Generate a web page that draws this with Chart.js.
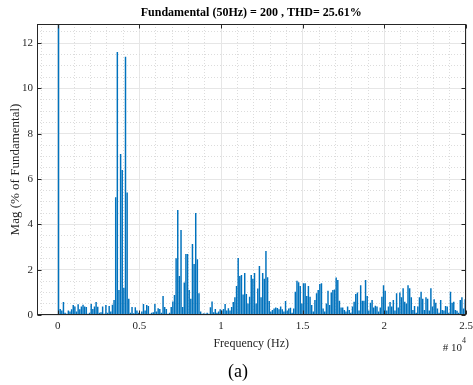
<!DOCTYPE html>
<html>
<head>
<meta charset="utf-8">
<script src="https://cdn.jsdelivr.net/npm/chart.js@4/dist/chart.umd.min.js"></script>
<style>
  html, body { margin: 0; background: #fff; }
  canvas { display: block; }
</style>
</head>
<body>
<canvas id="fft" width="473" height="385"></canvas>
<script>
/* FFT spectrum, % of fundamental */

const FONT = "'Liberation Serif', 'Times New Roman', serif";
const INK = "#262626";
const BAR = "#0072bd";

// odd harmonics of 50 Hz (50, 150, 250 ... 24950 Hz); first bar is the fundamental
const mag = [
  100,
  0.26, 0.2, 0.57, 0.1, 0.05, 0.2, 0.15, 0.25, 0.44, 0.37, 0.15, 0.47, 0.25, 0.37, 0.45, 0.37, 0.35,
  0.05, 0.1, 0.49, 0.27, 0.37, 0.57, 0.36, 0.1, 0.12, 0.37, 0.05, 0.44, 0.1, 0.4, 0.15, 0.45, 0.66,
  5.2, 11.6, 1.1, 7.1, 6.4, 1.2, 11.4, 5.4, 0.72,
  0.1, 0.35, 0.08, 0.34, 0.2, 0.1, 0.05, 0.15, 0.48, 0.2, 0.44, 0.4, 0.05, 0.1, 0.12, 0.48, 0.15, 0.3,
  0.26, 0.1, 0.84, 0.35, 0.26, 0.05, 0.1, 0.35, 0.6, 0.88,
  2.5, 4.63, 1.72, 3.75, 0.35, 1.43, 2.69, 2.69, 1.1, 0.72, 3.13, 2.25, 4.5, 2.46, 0.96,
  0.15, 0.05, 0.08, 0.06, 0.1, 0.05, 0.34, 0.6, 0.12, 0.27, 0.1, 0.15, 0.25, 0.2, 0.27, 0.48, 0.2,
  0.3, 0.2, 0.35, 0.57, 0.78, 1.28, 2.51, 1.72, 1.76,
  0.9, 1.85, 0.93, 0.51, 0.8, 1.76, 1.6, 1.85, 0.51, 1.17, 2.16, 0.78, 1.85, 1.6, 2.82, 1.67, 0.62,
  0.15, 0.22, 0.29, 0.33, 0.31, 0.25, 0.37, 0.25, 0.15, 0.62, 0.2, 0.29, 0.32, 0.1, 0.29, 1.03, 1.51,
  1.45, 1.28, 0.51, 1.4, 1.4, 0.84, 1.28, 0.81, 0.44, 0.15, 0.66, 0.96, 1.1, 1.37, 1.4, 0.29, 0.15,
  0.51, 1.07, 0.44, 0.99, 1.1,
  1.13, 1.66, 1.54, 0.63, 0.33, 0.33, 0.22, 0.15, 0.37, 0.22, 0.1, 0.37, 0.59, 0.93, 0.99, 0.2, 1.31,
  0.63, 0.63, 1.54, 0.84, 0.2, 0.54, 0.66, 0.33, 0.41, 0.37, 0.15, 0.33, 0.81, 1.31, 1.07, 0.2, 0.37,
  0.57, 0.37, 0.66, 0.2, 0.96, 0.33, 0.99, 0.78, 1.18, 0.59, 0.51, 1.31, 1.18, 0.78, 0.22, 0.4, 0.1,
  0.37, 0.78, 1.03, 0.72, 0.22, 0.78, 0.72, 0.2, 1.18, 0.37, 0.69, 0.54, 0.29, 0.1, 0.66, 0.22, 0.2,
  0.4, 0.37, 0.1, 1.03, 0.54, 0.59, 0.22, 0.19, 0.1, 0.66, 0.78, 0.29, 0.69,
];
const freqs = mag.map((_, k) => 50 + 100 * k);

const xTicks = [0, 5000, 10000, 15000, 20000, 25000];
const xLabels = ["0", "0.5", "1", "1.5", "2", "2.5"];
const yTicks = [0, 2, 4, 6, 8, 10, 12];

const X_MIN = -1300, X_MAX = 25000, Y_MAX = 12.84;

// dotted minor grid positions
const xMinor = [];
for (let v = -1000; v <= X_MAX; v += 1000) if (v % 5000) xMinor.push(v);
const yMinor = [];
for (let v = 0.5; v < Y_MAX; v += 0.5) if (v % 2) yMinor.push(v);

const setTicks = (vals) => (s) => { s.ticks = vals.map((value) => ({ value })); };

// MATLAB-ish box with inward ticks, exponent and caption
const frame = {
  id: "frame",
  afterDatasetsDraw(chart) {
    const { ctx, chartArea: a, scales } = chart;
    const L = Math.round(a.left) + 0.5, R = Math.round(a.right) - 0.5;
    const T = Math.round(a.top) + 0.5, B = Math.round(a.bottom) - 0.5;
    ctx.save();
    ctx.strokeStyle = INK;
    ctx.lineWidth = 1;
    ctx.strokeRect(L, T, R - L, B - T);
    ctx.beginPath();
    xTicks.forEach((v) => {
      const x = Math.round(scales.x.getPixelForValue(v)) + 0.5;
      ctx.moveTo(x, B); ctx.lineTo(x, B - 4);
      ctx.moveTo(x, T); ctx.lineTo(x, T + 4);
    });
    yTicks.forEach((v) => {
      const y = Math.round(scales.y.getPixelForValue(v)) + 0.5;
      ctx.moveTo(L, y); ctx.lineTo(L + 4, y);
      ctx.moveTo(R, y); ctx.lineTo(R - 4, y);
    });
    ctx.stroke();
    ctx.restore();
  },
  afterDraw(chart) {
    const { ctx, chartArea: a } = chart;
    ctx.save();
    ctx.fillStyle = INK;
    ctx.textBaseline = "middle";
    ctx.font = `11px ${FONT}`;
    ctx.textAlign = "right";
    ctx.fillText("# 10", a.right - 4, 348);
    ctx.font = `8px ${FONT}`;
    ctx.textAlign = "left";
    ctx.fillText("4", a.right - 4, 341);
    ctx.font = `18px ${FONT}`;
    ctx.textAlign = "center";
    ctx.fillStyle = "#000";
    ctx.fillText("(a)", 238, 372);
    ctx.restore();
  },
};

new Chart(document.getElementById("fft"), {
  type: "bar",
  data: {
    datasets: [{
      data: freqs.map((f, i) => ({ x: f, y: mag[i] })),
      backgroundColor: BAR,
      borderWidth: 0,
      barPercentage: 1,
      categoryPercentage: 0.9,
    }],
  },
  options: {
    responsive: false,
    animation: false,
    devicePixelRatio: 1,
    layout: { padding: { left: 0, right: 7, top: 0, bottom: 0 } },
    plugins: {
      legend: { display: false },
      tooltip: { enabled: false },
      title: {
        display: true,
        fullSize: false,
        text: "Fundamental (50Hz) = 200 , THD= 25.61%",
        color: "#000",
        font: { family: FONT, size: 12, weight: "bold" },
        padding: { top: 6, bottom: 3.6 },
      },
    },
    scales: {
      x: {
        type: "linear",
        min: X_MIN, max: X_MAX,
        offset: false,
        afterBuildTicks: setTicks(xTicks),
        afterFit: (s) => { s.height = 70; s.paddingLeft = 0; s.paddingRight = 0; },
        ticks: {
          color: INK, padding: 5, maxRotation: 0,
          font: { family: FONT, size: 11 },
          callback: (v) => xLabels[xTicks.indexOf(v)] ?? "",
        },
        grid: { color: "#e6e6e6", drawTicks: false, offset: false },
        border: { display: false },
        title: {
          display: true, text: "Frequency (Hz)", color: INK,
          font: { family: FONT, size: 12 },
          padding: { top: 0, bottom: 33.8 },
        },
      },
      xm: {
        type: "linear", position: "bottom",
        min: X_MIN, max: X_MAX,
        offset: false,
        afterBuildTicks: setTicks(xMinor),
        afterFit: (s) => { s.height = 0; s.paddingLeft = 0; s.paddingRight = 0; },
        ticks: { display: false },
        grid: { color: "#dcdcdc", drawTicks: false, offset: false },
        border: { display: false, dash: [1, 2] },
      },
      y: {
        min: 0, max: Y_MAX,
        afterBuildTicks: setTicks(yTicks),
        afterFit: (s) => { s.width = 36.5; s.paddingTop = 0; s.paddingBottom = 0; },
        ticks: { color: INK, padding: 3.5, font: { family: FONT, size: 11 } },
        grid: { color: "#e6e6e6", drawTicks: false },
        border: { display: false },
        title: {
          display: true, text: "Mag (% of Fundamental)", color: INK,
          font: { family: FONT, size: 13 },
          padding: { top: 8, bottom: 0 },
        },
      },
      ym: {
        position: "left",
        min: 0, max: Y_MAX,
        afterBuildTicks: setTicks(yMinor),
        afterFit: (s) => { s.width = 0; s.paddingTop = 0; s.paddingBottom = 0; },
        ticks: { display: false },
        grid: { color: "#dcdcdc", drawTicks: false },
        border: { display: false, dash: [1, 2] },
      },
    },
  },
  plugins: [frame],
});
</script>
</body>
</html>
